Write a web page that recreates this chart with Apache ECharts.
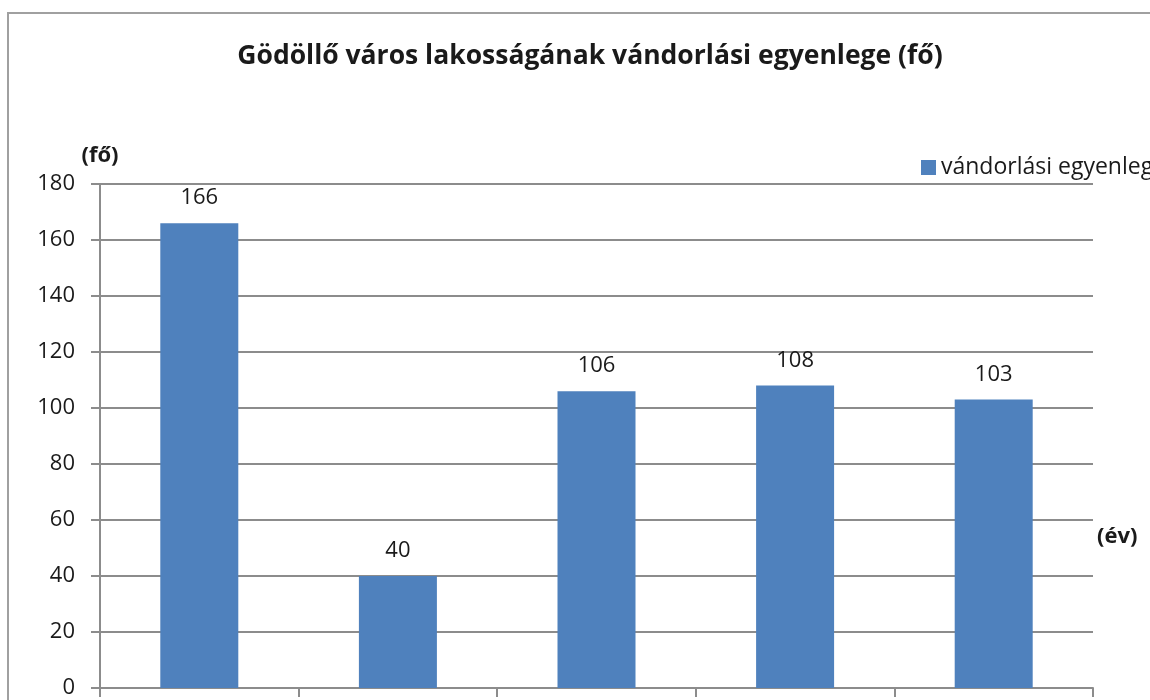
<!DOCTYPE html>
<html>
<head>
<meta charset="utf-8">
<script src="https://cdn.jsdelivr.net/npm/echarts@6/dist/echarts.min.js"></script>
<style>
  html, body { margin: 0; padding: 0; background: #fff; }
  #chart { width: 1150px; height: 700px; }
</style>
</head>
<body>
<div id="chart"></div>
<script>
  // adatok
  const categories = ['1', '2', '3', '4', '5']
  const values = [166, 40, 106, 108, 103]
  const seriesName = 'vándorlási egyenleg'
  const yMax = 180
  const yStep = 20

  const font = '"Open Sans", "Liberation Sans", sans-serif'
  const gridColor = '#8c8c8c'

  const chart = echarts.init(document.getElementById('chart'))

  const option = {
    animation: false,
    title: {
      text: 'Gödöllő város lakosságának vándorlási egyenlege (fő)',
      left: 585,
      textAlign: 'center',
      top: 38,
      textStyle: { fontFamily: font, fontSize: 26.5, fontWeight: 'bold', color: '#1a1a1a' }
    },
    legend: {
      left: 916,
      top: 151,
      itemWidth: 15,
      itemHeight: 15,
      itemGap: 6,
      icon: 'rect',
      textStyle: { fontFamily: font, fontSize: 23, color: '#1a1a1a' },
      data: [seriesName]
    },
    grid: { left: 100, right: 57, top: 184, bottom: 12 },
    xAxis: {
      type: 'category',
      data: categories,
      axisLine: { lineStyle: { color: gridColor, width: 2 } },
      axisTick: { show: true, length: 9, lineStyle: { color: gridColor, width: 2 } },
      axisLabel: { show: false }
    },
    yAxis: {
      type: 'value',
      min: 0,
      max: yMax,
      interval: yStep,
      name: '(fő)',
      nameLocation: 'end',
      nameGap: 17,
      nameTextStyle: { fontFamily: font, fontSize: 22, fontWeight: 'bold', color: '#1a1a1a', align: 'center' },
      axisLine: { show: true, lineStyle: { color: gridColor, width: 2 } },
      axisTick: { show: true, length: 9, inside: false, lineStyle: { color: gridColor, width: 2 } },
      axisLabel: { fontFamily: font, fontSize: 22, color: '#1a1a1a', margin: 25 },
      splitLine: { lineStyle: { color: gridColor, width: 2 } }
    },
    series: [{
      name: seriesName,
      type: 'bar',
      data: values,
      barWidth: 78,
      itemStyle: { color: '#4F81BD' },
      label: {
        show: true,
        position: 'top',
        distance: 14,
        fontFamily: font,
        fontSize: 22,
        color: '#1a1a1a'
      }
    }],
    graphic: [
      {
        type: 'rect',
        shape: { x: 8, y: 13, width: 1300, height: 900 },
        style: { fill: 'none', stroke: '#a0a0a0', lineWidth: 2 },
        silent: true
      },
      {
        type: 'text',
        left: 1097,
        top: 526,
        style: { text: '(év)', font: 'bold 22px ' + font, fill: '#1a1a1a' }
      }
    ]
  }

  chart.setOption(option)
</script>
</body>
</html>
